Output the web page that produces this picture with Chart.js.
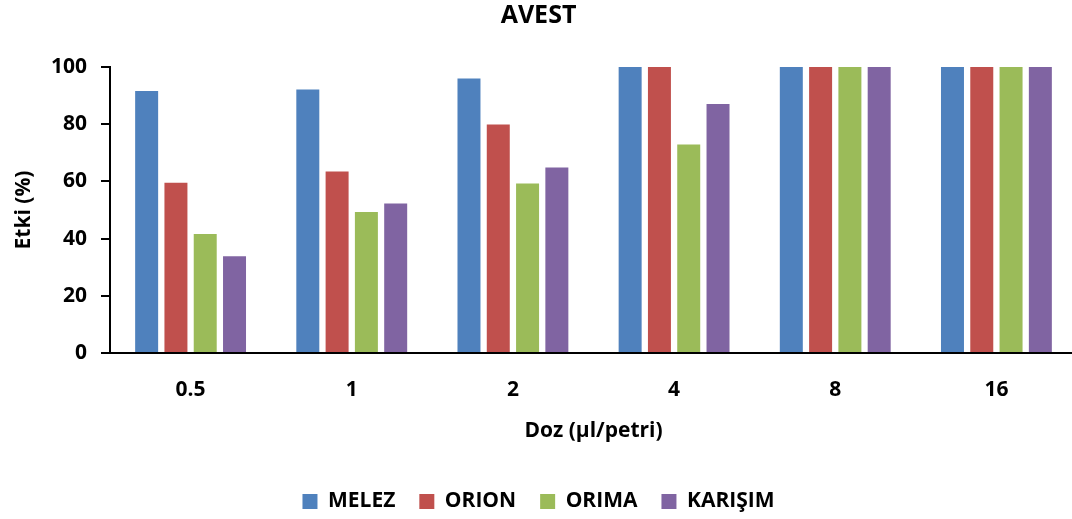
<!DOCTYPE html>
<html>
<head>
<meta charset="utf-8">
<script src="https://cdn.jsdelivr.net/npm/chart.js@4/dist/chart.umd.min.js"></script>
<style>
  html, body { margin: 0; padding: 0; background: #fff; overflow: hidden; }
  #wrap { width: 1078px; height: 519px; }
</style>
</head>
<body>
<div id="wrap"><canvas id="c" width="1078" height="519"></canvas></div>
<script>
const doses = ['0.5', '1', '2', '4', '8', '16'];
const melez = [91.6, 92.1, 96.0, 100, 100, 100];
const orion = [59.5, 63.5, 79.9, 100, 100, 100];
const orima = [41.6, 49.3, 59.3, 72.9, 100, 100];
const karisim = [33.8, 52.3, 64.9, 87.1, 100, 100];
const yTicks = [0, 20, 40, 60, 80, 100];

const FONT = '"Open Sans", "DejaVu Sans", sans-serif';

const series = [
  { label: 'MELEZ', data: melez, color: '#4F81BD' },
  { label: 'ORION', data: orion, color: '#C0504D' },
  { label: 'ORIMA', data: orima, color: '#9BBB59' },
  { label: 'KARIŞIM', data: karisim, color: '#8064A2' }
];

new Chart(document.getElementById('c'), {
  type: 'bar',
  data: {
    labels: doses,
    datasets: series.map(s => ({
      label: s.label,
      data: s.data,
      backgroundColor: s.color,
      borderWidth: 0,
      categoryPercentage: 0.727,
      barPercentage: 0.785
    }))
  },
  options: {
    responsive: false,
    animation: false,
    layout: { padding: { left: 0, right: 1, top: 0, bottom: -3 } },
    plugins: {
      title: {
        display: true,
        text: 'AVEST',
        color: '#000',
        font: { family: FONT, size: 25, weight: 'bold', lineHeight: 1.2 },
        padding: { top: 1, bottom: 36 }
      },
      legend: {
        position: 'bottom',
        labels: {
          color: '#000',
          font: { family: FONT, size: 21, weight: 'bold' },
          boxWidth: 15,
          boxHeight: 15,
          padding: 24
        }
      },
      tooltip: { enabled: false }
    },
    scales: {
      x: {
        grid: { display: false, drawTicks: false },
        border: { display: true, color: '#000', width: 2 },
        ticks: {
          color: '#000',
          font: { family: FONT, size: 21, weight: 'bold' },
          padding: 24,
          maxRotation: 0
        },
        title: {
          display: true,
          text: 'Doz (µl/petri)',
          color: '#000',
          font: { family: FONT, size: 21, weight: 'bold', lineHeight: 1.2 },
          padding: { top: 0, bottom: 23 }
        },
        afterFit: s => { s.height = 114; }
      },
      y: {
        min: 0,
        max: 100,
        afterBuildTicks: s => { s.ticks = yTicks.map(v => ({ value: v })); },
        grid: {
          drawOnChartArea: false,
          drawTicks: true,
          tickLength: 9,
          color: '#000',
          lineWidth: 2
        },
        border: { display: true, color: '#000', width: 2 },
        ticks: {
          color: '#000',
          font: { family: FONT, size: 21, weight: 'bold' },
          padding: 14
        },
        title: {
          display: true,
          text: 'Etki (%)',
          color: '#000',
          font: { family: FONT, size: 21, weight: 'bold', lineHeight: 1.2 },
          padding: { top: 11, bottom: 0 }
        },
        afterFit: s => { s.width = 110; }
      }
    }
  }
});
</script>
</body>
</html>
